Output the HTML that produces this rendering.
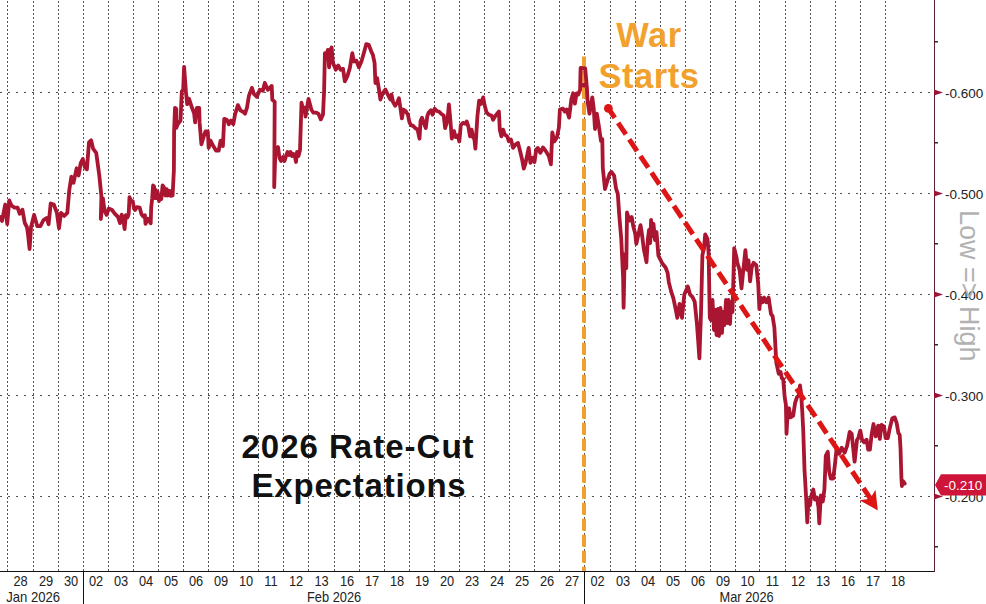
<!DOCTYPE html>
<html><head><meta charset="utf-8">
<style>
html,body{margin:0;padding:0;background:#fff;}
body{width:986px;height:604px;overflow:hidden;position:relative;}
svg{position:absolute;left:0;top:0;}
.gv{stroke:#555;stroke-width:1;stroke-dasharray:2 2;}
.gh{stroke:#555;stroke-width:1;stroke-dasharray:2 6;}
.xl{font-family:"Liberation Sans",sans-serif;font-size:14px;fill:#222;text-anchor:middle;}
.yl{font-family:"Liberation Sans",sans-serif;font-size:13.5px;fill:#222;}
.ml{font-family:"Liberation Sans",sans-serif;font-size:13.5px;fill:#222;}
.big{font-family:"Liberation Sans",sans-serif;font-weight:bold;text-anchor:middle;}
</style></head><body>
<svg width="986" height="604" viewBox="0 0 986 604">
<rect width="986" height="604" fill="#fff"/>
<line x1="7.5" y1="1" x2="7.5" y2="571" class="gv"/>
<line x1="33.5" y1="1" x2="33.5" y2="571" class="gv"/>
<line x1="58.5" y1="1" x2="58.5" y2="571" class="gv"/>
<line x1="83.5" y1="1" x2="83.5" y2="571" class="gv"/>
<line x1="108.5" y1="1" x2="108.5" y2="571" class="gv"/>
<line x1="133.5" y1="1" x2="133.5" y2="571" class="gv"/>
<line x1="158.5" y1="1" x2="158.5" y2="571" class="gv"/>
<line x1="183.5" y1="1" x2="183.5" y2="571" class="gv"/>
<line x1="208.5" y1="1" x2="208.5" y2="571" class="gv"/>
<line x1="233.5" y1="1" x2="233.5" y2="571" class="gv"/>
<line x1="258.5" y1="1" x2="258.5" y2="571" class="gv"/>
<line x1="283.5" y1="1" x2="283.5" y2="571" class="gv"/>
<line x1="308.5" y1="1" x2="308.5" y2="571" class="gv"/>
<line x1="334.5" y1="1" x2="334.5" y2="571" class="gv"/>
<line x1="359.5" y1="1" x2="359.5" y2="571" class="gv"/>
<line x1="384.5" y1="1" x2="384.5" y2="571" class="gv"/>
<line x1="409.5" y1="1" x2="409.5" y2="571" class="gv"/>
<line x1="434.5" y1="1" x2="434.5" y2="571" class="gv"/>
<line x1="459.5" y1="1" x2="459.5" y2="571" class="gv"/>
<line x1="484.5" y1="1" x2="484.5" y2="571" class="gv"/>
<line x1="509.5" y1="1" x2="509.5" y2="571" class="gv"/>
<line x1="534.5" y1="1" x2="534.5" y2="571" class="gv"/>
<line x1="559.5" y1="1" x2="559.5" y2="571" class="gv"/>
<line x1="584.5" y1="1" x2="584.5" y2="571" class="gv"/>
<line x1="610.5" y1="1" x2="610.5" y2="571" class="gv"/>
<line x1="635.5" y1="1" x2="635.5" y2="571" class="gv"/>
<line x1="660.5" y1="1" x2="660.5" y2="571" class="gv"/>
<line x1="685.5" y1="1" x2="685.5" y2="571" class="gv"/>
<line x1="710.5" y1="1" x2="710.5" y2="571" class="gv"/>
<line x1="735.5" y1="1" x2="735.5" y2="571" class="gv"/>
<line x1="759.5" y1="1" x2="759.5" y2="571" class="gv"/>
<line x1="785.5" y1="1" x2="785.5" y2="571" class="gv"/>
<line x1="810.5" y1="1" x2="810.5" y2="571" class="gv"/>
<line x1="835.5" y1="1" x2="835.5" y2="571" class="gv"/>
<line x1="860.5" y1="1" x2="860.5" y2="571" class="gv"/>
<line x1="885.5" y1="1" x2="885.5" y2="571" class="gv"/>
<line x1="0" y1="92.5" x2="934" y2="92.5" class="gh"/>
<line x1="0" y1="193.5" x2="934" y2="193.5" class="gh"/>
<line x1="0" y1="294.5" x2="934" y2="294.5" class="gh"/>
<line x1="0" y1="395.5" x2="934" y2="395.5" class="gh"/>
<line x1="0" y1="496.5" x2="934" y2="496.5" class="gh"/>
<text x="649" y="47" class="big" font-size="34.5" letter-spacing="0.5" fill="#F2A12C">War</text>
<text x="649" y="88" class="big" font-size="34.5" letter-spacing="0.5" fill="#F2A12C">Starts</text>
<text x="358" y="457.5" class="big" font-size="33" letter-spacing="1" fill="#111">2026 Rate-Cut</text>
<text x="359" y="497" class="big" font-size="33" letter-spacing="0.8" fill="#111">Expectations</text>
<line x1="584" y1="56.5" x2="584" y2="571" stroke="#F0A030" stroke-width="4" stroke-dasharray="12 4" stroke-dashoffset="1.8"/>
<path d="M0.0,216.9 L2.0,221.0 L5.2,204.5 L7.2,224.0 L9.3,200.4 L11.4,205.5 L14.5,207.6 L17.6,207.6 L19.7,213.8 L22.4,209.7 L24.8,223.0 L26.9,227.0 L27.9,233.5 L29.6,249.0 L31.0,227.3 L34.1,214.9 L37.3,226.2 L40.4,226.2 L43.5,220.0 L46.6,218.0 L48.6,224.2 L50.7,203.5 L53.8,204.5 L56.9,212.8 L59.0,228.3 L61.0,212.8 L64.2,215.9 L67.3,212.8 L69.3,190.0 L71.4,176.6 L73.5,182.8 L76.6,168.3 L78.6,175.5 L80.7,163.1 L82.8,159.0 L84.9,167.3 L86.9,169.3 L89.0,142.4 L91.1,140.3 L93.1,148.6 L96.2,152.8 L99.3,175.5 L101.4,196.2 L100.8,219.0 L102.9,198.3 L104.5,210.7 L106.6,214.9 L108.7,208.6 L111.8,209.7 L114.9,213.8 L118.0,216.9 L120.0,223.1 L121.7,214.6 L123.5,221.0 L124.6,229.1 L125.8,215.2 L127.5,217.5 L128.7,214.0 L129.5,197.2 L131.0,200.7 L132.8,201.3 L133.9,208.3 L135.1,210.0 L136.8,207.1 L139.7,207.7 L141.4,214.0 L143.2,216.4 L144.9,215.2 L145.5,223.9 L147.8,218.7 L150.7,223.3 L151.2,207.3 L152.2,198.2 L153.1,185.5 L154.0,186.4 L154.9,198.2 L155.8,190.0 L156.7,198.2 L157.6,191.8 L159.0,201.0 L160.3,195.5 L161.3,199.1 L162.6,185.5 L164.0,187.3 L165.4,195.5 L166.7,189.1 L168.1,195.5 L169.5,190.9 L170.8,195.9 L172.6,195.5 L173.9,170.0 L174.1,131.5 L175.0,107.8 L176.3,108.7 L176.3,127.9 L177.8,124.2 L180.5,120.6 L181.8,91.4 L183.2,89.6 L184.1,66.8 L185.9,91.4 L187.2,104.2 L189.0,98.7 L192.0,107.8 L194.1,113.3 L195.1,122.4 L196.9,107.8 L199.2,107.8 L199.6,122.4 L201.4,144.3 L203.3,137.9 L205.4,131.5 L207.8,131.5 L208.7,147.9 L210.5,140.6 L213.3,146.1 L216.0,150.6 L218.7,150.6 L220.6,140.6 L222.9,146.1 L224.2,118.8 L226.9,119.7 L228.8,124.2 L230.9,120.6 L233.3,124.2 L235.1,114.2 L237.9,105.1 L240.6,110.6 L243.0,111.7 L245.0,113.7 L247.0,107.7 L248.9,95.8 L251.9,87.9 L253.9,93.8 L256.9,96.8 L259.8,89.8 L262.8,90.8 L264.8,82.9 L267.8,89.8 L269.8,87.9 L271.7,85.9 L272.3,99.8 L274.7,101.7 L274.2,187.1 L275.5,148.0 L277.0,152.0 L278.0,147.0 L279.5,158.0 L281.0,161.0 L283.0,157.0 L284.5,161.0 L286.0,156.0 L287.5,152.0 L289.0,155.0 L290.5,152.0 L292.0,156.0 L293.5,154.0 L295.0,157.0 L296.0,162.0 L297.0,152.0 L298.5,156.0 L300.0,150.0 L301.5,102.7 L303.5,111.7 L304.5,107.7 L305.5,116.6 L308.5,98.8 L311.4,109.7 L313.4,112.7 L316.4,112.7 L318.3,113.6 L320.8,119.4 L323.0,114.4 L324.1,91.3 L324.9,53.2 L326.6,54.0 L327.9,49.9 L329.1,67.3 L329.9,51.5 L331.6,47.4 L332.9,63.1 L334.5,66.4 L335.7,69.7 L338.2,65.6 L340.7,69.7 L343.1,68.9 L344.8,81.3 L347.3,76.4 L349.8,68.1 L352.3,53.2 L353.9,61.5 L356.4,60.6 L358.9,67.3 L361.4,61.5 L363.8,53.2 L366.3,44.1 L368.8,44.9 L371.3,51.5 L372.9,54.8 L374.6,63.1 L375.4,83.0 L377.1,78.0 L378.7,87.9 L380.4,99.5 L382.9,92.9 L385.4,89.6 L387.8,94.6 L390.3,99.5 L391.5,94.6 L393.0,102.0 L395.2,105.8 L397.5,102.0 L398.9,98.3 L400.4,108.0 L401.9,118.4 L403.4,109.5 L405.6,111.0 L407.9,114.7 L409.4,122.2 L410.9,125.1 L413.1,125.9 L415.3,128.1 L417.6,129.6 L419.5,138.6 L420.6,120.7 L422.0,117.7 L423.5,122.2 L425.8,128.1 L427.3,116.2 L428.7,112.5 L431.0,110.2 L432.5,114.7 L434.7,108.7 L436.9,111.0 L439.2,111.7 L441.4,114.0 L443.7,115.5 L445.1,128.1 L447.4,120.7 L448.9,104.3 L450.4,120.7 L451.8,138.6 L454.1,131.1 L455.6,137.1 L457.8,135.6 L459.3,141.5 L460.8,125.1 L463.0,122.9 L465.3,123.7 L466.7,121.4 L468.3,126.4 L470.0,136.3 L471.6,129.7 L473.3,137.9 L474.1,136.3 L475.4,148.7 L477.4,116.4 L479.1,100.7 L480.7,104.0 L483.2,97.4 L484.5,104.8 L486.5,112.3 L489.0,114.8 L491.5,115.6 L493.1,119.7 L495.6,115.6 L498.9,111.5 L499.8,129.7 L501.4,136.3 L503.1,129.7 L504.7,134.6 L507.2,136.3 L508.9,141.3 L511.0,139.6 L513.0,147.9 L515.5,144.6 L518.0,142.9 L520.5,152.8 L522.1,159.5 L523.8,168.6 L525.4,163.6 L528.7,147.9 L530.4,162.8 L532.9,157.8 L534.5,162.0 L536.2,149.5 L537.8,147.9 L540.3,152.8 L543.0,147.4 L546.0,151.4 L548.9,156.4 L550.9,164.3 L552.3,132.5 L554.3,141.5 L556.9,137.5 L558.9,127.5 L559.9,109.6 L562.9,108.6 L564.9,111.6 L566.7,109.5 L569.1,117.6 L571.4,99.0 L573.1,93.3 L574.9,103.7 L576.6,93.3 L578.3,94.4 L580.1,89.8 L580.6,68.0 L585.2,68.5 L586.6,84.5 L581.5,85.2 L586.8,86.0 L587.6,101.4 L589.5,113.6 L592.3,97.3 L593.7,108.2 L595.0,129.0 L596.8,113.6 L598.6,124.5 L601.0,141.0 L602.3,139.0 L602.8,168.0 L605.0,189.0 L606.8,182.9 L609.6,173.8 L611.4,171.9 L614.1,175.6 L616.0,188.3 L617.8,193.9 L619.4,217.1 L621.2,238.0 L623.1,277.4 L623.6,307.6 L624.7,254.2 L626.3,268.2 L627.0,212.5 L629.4,220.6 L631.7,217.1 L633.3,226.4 L635.2,233.4 L636.3,243.8 L640.5,225.1 L641.8,233.0 L643.8,249.0 L646.5,262.2 L647.8,240.0 L649.0,230.0 L650.2,243.0 L651.1,219.8 L652.3,236.0 L653.5,224.0 L655.0,240.0 L656.5,232.0 L658.4,255.6 L662.3,263.5 L665.6,267.5 L667.6,272.8 L668.8,282.1 L671.1,291.4 L673.4,298.3 L675.8,309.9 L677.3,317.8 L679.6,303.9 L682.0,317.8 L684.3,294.6 L687.8,286.5 L690.1,294.6 L692.4,296.9 L694.7,301.6 L697.0,324.8 L698.2,341.0 L699.4,358.4 L701.0,313.2 L702.4,255.2 L704.0,248.2 L705.2,234.3 L707.5,238.9 L708.6,252.8 L709.8,317.8 L711.0,320.0 L712.5,300.0 L714.0,330.0 L715.5,310.0 L716.5,335.0 L718.0,309.0 L719.0,336.0 L720.5,308.0 L722.0,333.0 L723.0,312.0 L724.5,325.0 L726.0,300.0 L727.5,323.0 L728.5,300.0 L730.0,324.0 L731.0,302.0 L732.5,312.0 L734.2,248.2 L736.5,257.5 L737.3,262.8 L739.6,269.8 L741.5,288.4 L743.1,272.1 L745.4,250.1 L747.1,269.8 L748.5,260.5 L750.1,281.4 L751.7,267.5 L753.6,262.8 L756.3,265.2 L758.2,283.7 L759.4,309.2 L760.5,297.6 L762.4,302.3 L764.0,297.6 L766.3,302.3 L768.6,297.6 L771.0,313.9 L772.6,316.2 L774.4,327.8 L776.3,362.6 L778.7,373.7 L780.5,371.9 L781.8,378.2 L783.2,379.1 L784.7,397.4 L785.9,404.6 L786.5,433.8 L787.8,410.1 L789.0,408.3 L790.5,417.4 L793.2,415.6 L795.1,402.8 L796.9,397.4 L798.7,395.5 L800.0,385.5 L801.1,393.7 L802.3,411.9 L803.3,432.0 L804.5,469.6 L805.9,493.5 L807.3,522.3 L808.5,499.5 L809.9,505.4 L811.3,495.5 L813.3,489.5 L814.9,499.5 L816.9,497.5 L818.5,507.4 L819.3,523.3 L820.8,495.5 L822.8,501.5 L824.4,489.5 L825.8,455.7 L827.8,451.8 L829.2,471.6 L830.8,478.6 L833.2,478.6 L834.8,465.7 L836.7,447.8 L839.1,453.7 L841.7,447.8 L844.7,452.7 L847.1,445.8 L849.7,431.9 L851.7,433.9 L854.6,461.7 L857.0,439.8 L858.3,438.1 L860.3,430.6 L862.0,439.7 L864.1,442.2 L866.6,439.7 L868.2,449.7 L869.9,449.7 L871.6,434.8 L873.5,424.0 L875.7,436.4 L878.2,425.7 L879.8,438.9 L881.5,424.8 L884.0,426.5 L885.6,438.1 L887.8,438.1 L889.8,428.1 L892.3,418.2 L894.7,417.4 L896.7,423.2 L898.4,433.1 L899.7,434.8 L900.5,448.0 L901.4,477.8 L901.9,486.1 L903.0,481.1 L904.7,483.6" fill="none" stroke="#AA1531" stroke-width="3.8" stroke-linejoin="round" stroke-linecap="round"/>
<line x1="608.4" y1="108.4" x2="870.6" y2="498.8" stroke="#DD1515" stroke-width="5" stroke-dasharray="14 6" stroke-dashoffset="2.6"/>
<circle cx="608.4" cy="108.4" r="4.4" fill="#DD1515"/>
<polygon points="877.8,510.4 859.6,500.3 870.0,498.8 875.5,489.8" fill="#DD1515"/>
<line x1="0" y1="571.5" x2="935" y2="571.5" stroke="#111" stroke-width="1"/>
<line x1="934.5" y1="0" x2="934.5" y2="572" stroke="#5e1f3a" stroke-width="1"/>
<line x1="83.5" y1="571" x2="83.5" y2="604" stroke="#111" stroke-width="1"/>
<line x1="584.5" y1="571" x2="584.5" y2="604" stroke="#111" stroke-width="1"/>
<text transform="translate(20.5,586) scale(0.915,1)" class="xl">28</text>
<text transform="translate(46.0,586) scale(0.915,1)" class="xl">29</text>
<text transform="translate(71.0,586) scale(0.915,1)" class="xl">30</text>
<text transform="translate(96.0,586) scale(0.915,1)" class="xl">02</text>
<text transform="translate(121.0,586) scale(0.915,1)" class="xl">03</text>
<text transform="translate(146.0,586) scale(0.915,1)" class="xl">04</text>
<text transform="translate(171.0,586) scale(0.915,1)" class="xl">05</text>
<text transform="translate(196.0,586) scale(0.915,1)" class="xl">06</text>
<text transform="translate(221.0,586) scale(0.915,1)" class="xl">09</text>
<text transform="translate(246.0,586) scale(0.915,1)" class="xl">10</text>
<text transform="translate(271.0,586) scale(0.915,1)" class="xl">11</text>
<text transform="translate(296.0,586) scale(0.915,1)" class="xl">12</text>
<text transform="translate(321.5,586) scale(0.915,1)" class="xl">13</text>
<text transform="translate(347.0,586) scale(0.915,1)" class="xl">16</text>
<text transform="translate(372.0,586) scale(0.915,1)" class="xl">17</text>
<text transform="translate(397.0,586) scale(0.915,1)" class="xl">18</text>
<text transform="translate(422.0,586) scale(0.915,1)" class="xl">19</text>
<text transform="translate(447.0,586) scale(0.915,1)" class="xl">20</text>
<text transform="translate(472.0,586) scale(0.915,1)" class="xl">23</text>
<text transform="translate(497.0,586) scale(0.915,1)" class="xl">24</text>
<text transform="translate(522.0,586) scale(0.915,1)" class="xl">25</text>
<text transform="translate(547.0,586) scale(0.915,1)" class="xl">26</text>
<text transform="translate(572.0,586) scale(0.915,1)" class="xl">27</text>
<text transform="translate(597.5,586) scale(0.915,1)" class="xl">02</text>
<text transform="translate(623.0,586) scale(0.915,1)" class="xl">03</text>
<text transform="translate(648.0,586) scale(0.915,1)" class="xl">04</text>
<text transform="translate(673.0,586) scale(0.915,1)" class="xl">05</text>
<text transform="translate(698.0,586) scale(0.915,1)" class="xl">06</text>
<text transform="translate(723.0,586) scale(0.915,1)" class="xl">09</text>
<text transform="translate(747.5,586) scale(0.915,1)" class="xl">10</text>
<text transform="translate(772.5,586) scale(0.915,1)" class="xl">11</text>
<text transform="translate(798.0,586) scale(0.915,1)" class="xl">12</text>
<text transform="translate(823.0,586) scale(0.915,1)" class="xl">13</text>
<text transform="translate(848.0,586) scale(0.915,1)" class="xl">16</text>
<text transform="translate(873.0,586) scale(0.915,1)" class="xl">17</text>
<text transform="translate(898.0,586) scale(0.915,1)" class="xl">18</text>
<text transform="translate(33.2,602) scale(0.935,1)" class="xl">Jan 2026</text>
<text transform="translate(334.1,602) scale(0.915,1)" class="xl">Feb 2026</text>
<text transform="translate(746.6,602) scale(0.915,1)" class="xl">Mar 2026</text>
<polygon points="934,89.5 943,92.5 934,95.5" fill="#9a1535"/>
<text x="945" y="97.5" class="yl">-0.600</text>
<polygon points="934,190.5 943,193.5 934,196.5" fill="#9a1535"/>
<text x="945" y="198.5" class="yl">-0.500</text>
<polygon points="934,291.5 943,294.5 934,297.5" fill="#9a1535"/>
<text x="945" y="299.5" class="yl">-0.400</text>
<polygon points="934,392.5 943,395.5 934,398.5" fill="#9a1535"/>
<text x="945" y="400.5" class="yl">-0.300</text>
<polygon points="934,493.5 943,496.5 934,499.5" fill="#9a1535"/>
<text x="945" y="501.5" class="yl">-0.200</text>
<rect x="934" y="41" width="4" height="1.5" fill="#3a2530"/>
<rect x="934" y="142" width="4" height="1.5" fill="#3a2530"/>
<rect x="934" y="243" width="4" height="1.5" fill="#3a2530"/>
<rect x="934" y="344" width="4" height="1.5" fill="#3a2530"/>
<rect x="934" y="445" width="4" height="1.5" fill="#3a2530"/>
<rect x="934" y="546" width="4" height="1.5" fill="#3a2530"/>
<g transform="translate(960,210) rotate(90)"><text x="0" y="0" font-family="Liberation Sans, sans-serif" font-size="27" fill="#b2b2b2">Low =&gt; High</text></g>
<polygon points="935,485 941,474.2 986,474.2 986,495.5 941,495.5" fill="#CE1438"/>
<text x="944" y="489.5" font-family="Liberation Sans, sans-serif" font-size="13.5" fill="#fff">-0.210</text>
</svg>
</body></html>
